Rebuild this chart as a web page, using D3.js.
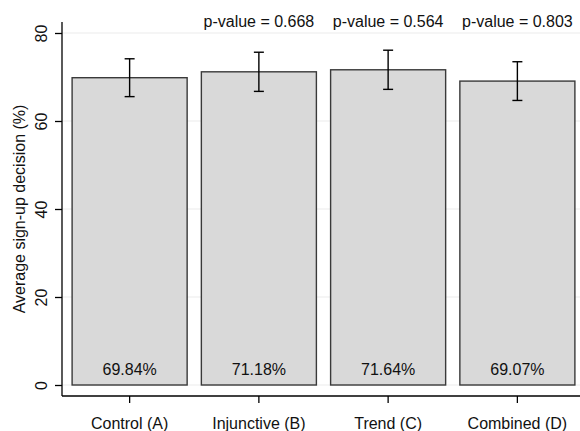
<!DOCTYPE html>
<html>
<head>
<meta charset="utf-8">
<script src="https://cdn.jsdelivr.net/npm/d3@7"></script>
<style>
  body { margin: 0; background: #fff; }
  svg { display: block; font-family: "Liberation Sans", Arial, Helvetica, sans-serif; }
</style>
</head>
<body>
<div id="chart"></div>
<script>
// data
const categories = ["Control (A)", "Injunctive (B)", "Trend (C)", "Combined (D)"];
const means = [69.84, 71.18, 71.64, 69.07];
const errHalf = [4.3, 4.45, 4.45, 4.4];
const pValues = [null, "0.668", "0.564", "0.803"];
const yTicks = [0, 20, 40, 60, 80];

const width = 580, height = 431;

const svg = d3.select("div#chart")
  .append("svg")
  .attr("width", width)
  .attr("height", height);

const xScale = d3.scaleBand()
  .domain(categories)
  .range([65, 582])
  .paddingInner(0.11)
  .paddingOuter(0.055);

const yScale = d3.scaleLinear().domain([0, 80]).range([385, 33]);

// gridlines
svg.append("g").selectAll("line")
  .data(yTicks)
  .enter().append("line")
  .attr("x1", 62).attr("x2", 580)
  .attr("y1", d => yScale(d)).attr("y2", d => yScale(d))
  .attr("stroke", "#ebebeb")
  .attr("stroke-width", 1);

// bars
svg.append("g").selectAll("rect")
  .data(means)
  .enter().append("rect")
  .attr("x", (d, i) => xScale(categories[i]))
  .attr("y", d => yScale(d))
  .attr("width", xScale.bandwidth())
  .attr("height", d => yScale(0) - yScale(d))
  .attr("fill", "#d9d9d9")
  .attr("stroke", "#3a3a3a")
  .attr("stroke-width", 1.4);

// error bars
const eb = svg.append("g").attr("stroke", "#000").attr("stroke-width", 1.4);
means.forEach((m, i) => {
  const cx = xScale(categories[i]) + xScale.bandwidth() / 2;
  const top = yScale(m + errHalf[i]), bot = yScale(m - errHalf[i]);
  eb.append("line").attr("x1", cx).attr("x2", cx).attr("y1", top).attr("y2", bot);
  eb.append("line").attr("x1", cx - 5).attr("x2", cx + 5).attr("y1", top).attr("y2", top);
  eb.append("line").attr("x1", cx - 5).attr("x2", cx + 5).attr("y1", bot).attr("y2", bot);
});

// value labels inside bars
svg.append("g").selectAll("text")
  .data(means)
  .enter().append("text")
  .attr("x", (d, i) => xScale(categories[i]) + xScale.bandwidth() / 2)
  .attr("y", 375)
  .attr("text-anchor", "middle")
  .attr("font-size", "16px")
  .attr("fill", "#111")
  .text(d => d.toFixed(2) + "%");

// p-values above (compared with control)
const pData = pValues.map((p, i) => ({ p: p, cat: categories[i] })).filter(d => d.p !== null);
svg.append("g").selectAll("text")
  .data(pData)
  .enter().append("text")
  .attr("x", d => xScale(d.cat) + xScale.bandwidth() / 2)
  .attr("y", 26.5)
  .attr("text-anchor", "middle")
  .attr("font-size", "16px")
  .attr("fill", "#111")
  .text(d => "p-value = " + d.p);

// y axis
const yAxis = svg.append("g").attr("transform", "translate(62,0)")
  .call(d3.axisLeft(yScale).tickValues(yTicks).tickSize(7).tickPadding(0));
yAxis.select(".domain").remove();
yAxis.append("line").attr("x1", 0).attr("x2", 0).attr("y1", 22).attr("y2", 396)
  .attr("stroke", "#000").attr("stroke-width", 1.3);
yAxis.selectAll(".tick line").attr("stroke", "#000").attr("stroke-width", 1.3);
yAxis.selectAll(".tick text")
  .attr("x", null).attr("dy", null)
  .attr("transform", "translate(-15,0) rotate(-90)")
  .attr("text-anchor", "middle")
  .attr("font-size", "16px")
  .attr("font-family", "Liberation Sans, Arial, sans-serif")
  .attr("fill", "#111");

// x axis
const xAxis = svg.append("g").attr("transform", "translate(0,396)")
  .call(d3.axisBottom(xScale).tickSize(7).tickPadding(0));
xAxis.select(".domain").remove();
xAxis.append("line").attr("x1", 62).attr("x2", 580).attr("y1", 0).attr("y2", 0)
  .attr("stroke", "#000").attr("stroke-width", 1.3);
xAxis.selectAll(".tick line").attr("stroke", "#000").attr("stroke-width", 1.3);
xAxis.selectAll(".tick text")
  .attr("y", 32.5).attr("dy", null)
  .attr("font-size", "16px")
  .attr("font-family", "Liberation Sans, Arial, sans-serif")
  .attr("fill", "#111");

// y axis title
svg.append("text")
  .attr("transform", "translate(25,209) rotate(-90)")
  .attr("text-anchor", "middle")
  .attr("font-size", "16px")
  .attr("fill", "#111")
  .text("Average sign-up decision (%)");
</script>
</body>
</html>
